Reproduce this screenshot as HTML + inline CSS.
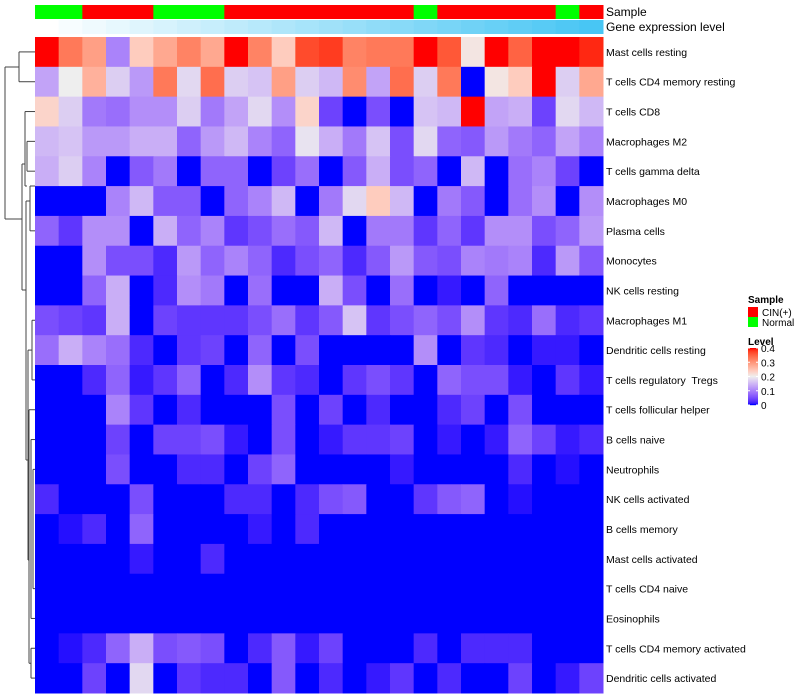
<!DOCTYPE html>
<html><head><meta charset="utf-8"><style>
html,body{margin:0;padding:0;background:#fff;}
svg{display:block;font-family:"Liberation Sans",sans-serif;}
text{white-space:pre;}
</style></head><body>
<svg id="chart" width="800" height="700" viewBox="0 0 800 700"></svg>
<script>
const rowLabels=["Mast cells resting","T cells CD4 memory resting","T cells CD8","Macrophages M2","T cells gamma delta","Macrophages M0","Plasma cells","Monocytes","NK cells resting","Macrophages M1","Dendritic cells resting","T cells regulatory  Tregs","T cells follicular helper","B cells naive","Neutrophils","NK cells activated","B cells memory","Mast cells activated","T cells CD4 naive","Eosinophils","T cells CD4 memory activated","Dendritic cells activated"];
const sampleGroups=["Normal","Normal","CIN(+)","CIN(+)","CIN(+)","Normal","Normal","Normal","CIN(+)","CIN(+)","CIN(+)","CIN(+)","CIN(+)","CIN(+)","CIN(+)","CIN(+)","Normal","CIN(+)","CIN(+)","CIN(+)","CIN(+)","CIN(+)","Normal","CIN(+)"];
const geneLevel=[0,1,2,3,4,5,6,7,8,9,10,11,12,13,14,15,16,17,18,19,20,21,22,23];
const legendTicks=[0,0.1,0.2,0.3,0.4];
const values=[
[.4,.33,.29,.1,.24,.28,.32,.28,.4,.32,.24,.37,.38,.32,.33,.33,.4,.36,.21,.4,.35,.4,.4,.39],
[.13,.2,.27,.17,.12,.33,.18,.34,.17,.16,.29,.17,.15,.31,.13,.34,.17,.33,0,.21,.24,.4,.17,.28],
[.23,.17,.09,.08,.11,.11,.17,.09,.13,.18,.11,.23,.04,0,.05,0,.16,.15,.4,.13,.14,.04,.18,.15],
[.15,.16,.12,.12,.14,.14,.07,.12,.15,.1,.07,.19,.14,.09,.16,.05,.18,.07,.06,.12,.09,.07,.13,.1],
[.14,.17,.1,0,.06,.09,0,.07,.07,0,.04,.08,0,.06,.14,.05,.07,0,.15,0,.08,.1,.04,0],
[0,0,0,.1,.15,.06,.06,0,.07,.1,.15,0,.09,.18,.24,.15,0,.09,.06,0,.08,.11,0,.11],
[.07,.03,.11,.11,0,.14,.07,.1,.03,.05,.08,.06,.15,0,.09,.09,.03,.07,.03,.11,.11,.05,.07,.12],
[0,0,.11,.05,.05,.02,.12,.07,.1,.07,.02,.05,.07,.02,.06,.12,.06,.05,.1,.09,.1,.02,.12,.06],
[0,0,.07,.14,0,.02,.11,.09,0,.08,0,0,.14,.05,0,.08,0,.01,0,.07,0,0,0,0],
[.05,.04,.03,.14,0,.04,.03,.03,.03,.05,.08,.03,.06,.16,.03,.05,.07,.05,.11,.03,.02,.08,.02,.03],
[.08,.14,.1,.08,.02,0,.03,.04,0,.07,0,.05,0,0,0,0,.11,0,.03,.02,0,.01,.01,0],
[0,0,.02,.07,.01,.03,.07,0,.02,.11,.03,.02,0,.03,.05,.03,0,.07,.05,.05,.01,0,.03,.01],
[0,0,0,.1,.03,0,.02,0,0,0,.05,0,.04,0,.02,0,0,.02,.04,0,.05,0,0,0],
[0,0,0,.04,0,.04,.04,.05,.01,0,.05,0,.01,.03,.03,.04,0,.01,0,.01,.07,.04,.01,.02],
[0,0,0,.05,0,0,.02,.02,0,.04,.07,0,0,0,0,.01,0,0,0,0,.02,0,.005,0],
[.02,0,0,0,.05,0,0,0,.02,.02,0,.02,.05,.06,0,0,.03,.06,.07,0,.005,0,0,0],
[0,.005,.02,0,.07,0,0,0,0,.01,0,.02,0,0,0,0,0,0,0,0,0,0,0,0],
[0,0,0,0,.01,0,0,.02,0,0,0,0,0,0,0,0,0,0,0,0,0,0,0,0],
[0,0,0,0,0,0,0,0,0,0,0,0,0,0,0,0,0,0,0,0,0,0,0,0],
[0,0,0,0,0,0,0,0,0,0,0,0,0,0,0,0,0,0,0,0,0,0,0,0],
[0,.005,.02,.07,.14,.05,.06,.05,0,.02,.06,.01,.04,0,0,0,.02,0,.02,.02,.02,0,0,0],
[0,0,.04,0,.18,0,.03,.02,.02,0,.06,0,.02,0,.01,.03,0,.02,0,0,.04,0,.01,.04]
];
const NS="http://www.w3.org/2000/svg";
const svg=document.getElementById("chart");
const X0=35,X1=603,Y0=37,Y1=693;
const cw=(X1-X0)/geneLevel.length, rh=(Y1-Y0)/rowLabels.length;
function xPos(i){return X0+i*cw;}
function yPos(j){return Y0+j*rh;}
function mix(a,b,t){return a.map((v,i)=>Math.round(v+(b[i]-v)*t));}
// LAB interpolation
function s2l(c){c/=255;return c<=0.04045?c/12.92:Math.pow((c+0.055)/1.055,2.4);}
function l2s(c){c=c<=0.0031308?12.92*c:1.055*Math.pow(c,1/2.4)-0.055;return Math.max(0,Math.min(255,Math.round(c*255)));}
function toLab(rgb){const [r,g,b]=rgb.map(s2l);
 let X=(r*0.4124+g*0.3576+b*0.1805)/0.95047,Y=r*0.2126+g*0.7152+b*0.0722,Z=(r*0.0193+g*0.1192+b*0.9505)/1.08883;
 const f=t=>t>0.008856?Math.cbrt(t):7.787*t+16/116;const fx=f(X),fy=f(Y),fz=f(Z);
 return [116*fy-16,500*(fx-fy),200*(fy-fz)];}
function fromLab(lab){const fy=(lab[0]+16)/116,fx=fy+lab[1]/500,fz=fy-lab[2]/200;
 const fi=t=>t*t*t>0.008856?t*t*t:(t-16/116)/7.787;
 const X=fi(fx)*0.95047,Y=fi(fy),Z=fi(fz)*1.08883;
 const r=X*3.2406-Y*1.5372-Z*0.4986,g=-X*0.9689+Y*1.8758+Z*0.0415,b=X*0.0557-Y*0.2040+Z*1.0570;
 return [l2s(r),l2s(g),l2s(b)];}
const LB=toLab([0,0,255]),LW=toLab([238,238,238]),LR=toLab([255,0,0]);
function colorOf(v){
  v=Math.max(0,Math.min(0.4,v));
  let lab;
  if(v<=0.2){const t=v/0.2;lab=LB.map((x,i)=>x+(LW[i]-x)*t);}
  else{const t=(v-0.2)/0.2;lab=LW.map((x,i)=>x+(LR[i]-x)*t);}
  const c=fromLab(lab);
  return `rgb(${c[0]},${c[1]},${c[2]})`;
}
function el(tag,attrs,parent){const e=document.createElementNS(NS,tag);for(const k in attrs)e.setAttribute(k,attrs[k]);(parent||svg).appendChild(e);return e;}
const gMax=Math.max(...geneLevel);
geneLevel.forEach((g,i)=>{
  const s=el("rect",{x:xPos(i),y:5,width:cw+0.5,height:14,fill:sampleGroups[i]==="Normal"?"#00ff00":"#ff0000"});
  
  
  const c=mix([255,255,255],[72,198,244],g/gMax);
  const r=el("rect",{x:xPos(i),y:20,width:cw+0.5,height:14,fill:`rgb(${c[0]},${c[1]},${c[2]})`});
  
  
});
values.forEach((row,j)=>row.forEach((v,i)=>{
  const r=el("rect",{x:xPos(i),y:yPos(j),width:cw+0.5,height:rh+0.5,fill:colorOf(v)});
  
  
}));
rowLabels.forEach((l,j)=>{
  const t=el("text",{x:606,y:yPos(j)+rh/2+4,"font-size":"10.5",fill:"#000"});
  t.textContent=l;
  
  
});
const a1=el("text",{x:606,y:16,"font-size":"12"});a1.textContent="Sample";

const a2=el("text",{x:606,y:31,"font-size":"12"});a2.textContent="Gene expression level";

const cy=j=>yPos(j)+rh/2;
const segs=[
 [19,cy(0),19,cy(1)],[19,cy(0),35,cy(0)],[19,cy(1),35,cy(1)],
 [5,67,19,67],[5,67,5,219],[5,219,22,219],
 [22,164,22,290],[22,164,25,164],[25,cy(2),25,186],[25,cy(2),35,cy(2)],[25,186,27,186],[27,cy(3),27,cy(4)],[27,cy(3),35,cy(3)],[27,cy(4),35,cy(4)],
 [22,290,26,290],[26,cy(5),26,460],[26,cy(5),30,cy(5)],[30,cy(5)-15,30,cy(6)],[30,cy(5)-15,35,cy(5)-15],[30,cy(6),35,cy(6)],
 [26,460,28,460],[28,cy(10),28,560],[28,cy(10),32,cy(10)],[32,cy(9),32,cy(11)],[32,cy(9),35,cy(9)],[32,cy(11),35,cy(11)],
 [28,560,29,560],[29,cy(12),29,cy(20)+15],[29,cy(12),35,cy(12)],[29,cy(20)+15,31,cy(20)+15],[31,cy(20),31,cy(21)],[31,cy(20),35,cy(20)],[31,cy(21),35,cy(21)],
 [31,cy(13),31,cy(19)],[31,cy(13),35,cy(13)],[33,cy(14),33,cy(18)],[31,cy(19),35,cy(19)],[33,cy(14),35,cy(14)],[33,cy(18),35,cy(18)]
];
segs.forEach(s=>{const l=el("line",{x1:s[0],y1:s[1],x2:s[2],y2:s[3],stroke:"#444","stroke-width":"1"});
 });
const lg=el("g",{});

const t1=el("text",{x:748,y:303,"font-size":"10","font-weight":"bold"},lg);t1.textContent="Sample";
[["CIN(+)","#ff0000"],["Normal","#00ff00"]].forEach((d,k)=>{
  const r=el("rect",{x:748,y:307+k*10,width:10,height:10,fill:d[1]},lg);
  
  const t=el("text",{x:762,y:316+k*10,"font-size":"10"},lg);t.textContent=d[0];
  
});
const t2=el("text",{x:748,y:345,"font-size":"10","font-weight":"bold"},lg);t2.textContent="Level";
const bTop=348,bBot=405;
for(let k=0;k<57;k++){const v=0.4*(1-k/56);el("rect",{x:748,y:bTop+k,width:10,height:1.2,fill:colorOf(v)},lg);}
legendTicks.forEach(v=>{
  const y=bBot-(v/0.4)*(bBot-bTop);
  el("line",{x1:748,x2:750,y1:y,y2:y,stroke:"#fff"},lg);
  el("line",{x1:756,x2:758,y1:y,y2:y,stroke:"#fff"},lg);
  const t=el("text",{x:761,y:y+4,"font-size":"10"},lg);t.textContent=String(v);
  
});
</script>
</body></html>
